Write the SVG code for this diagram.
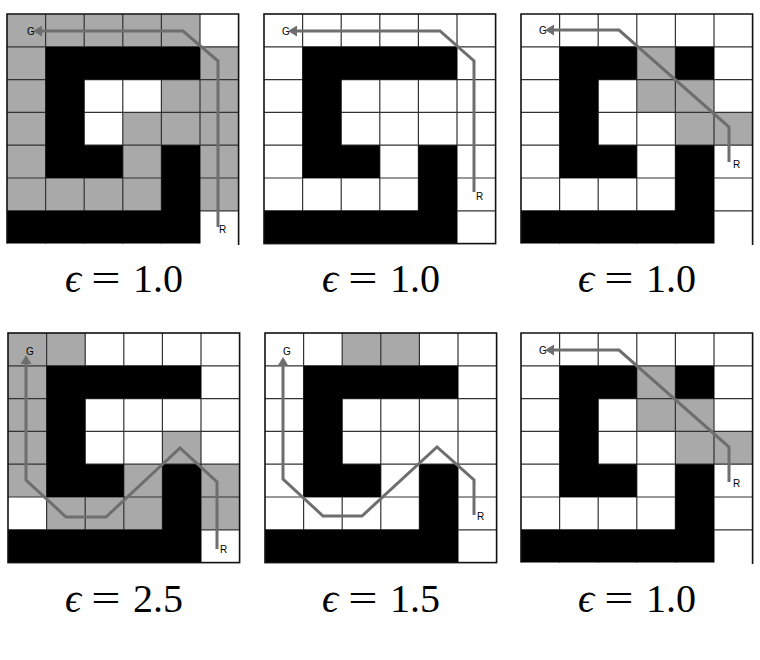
<svg xmlns="http://www.w3.org/2000/svg" xmlns:xlink="http://www.w3.org/1999/xlink" width="760" height="660" viewBox="0 0 760 660">
<style>
.g{fill:#a9a9a9}
.k{fill:#000}
.grid{fill:none;stroke:#333;stroke-width:1.2}
.border{fill:none;stroke:#111;stroke-width:1.6}
.path{fill:none;stroke:#6e6e6e;stroke-width:3;stroke-linejoin:miter;marker-end:url(#ah)}
.lbl{font-family:"Liberation Sans",Arial,sans-serif;font-size:10px;fill:#000}
.eq{font-family:"Liberation Serif","DejaVu Serif",serif;font-size:40px;fill:#000}
.eps{font-style:italic}
</style>
<defs>
<marker id="ah" markerUnits="userSpaceOnUse" markerWidth="9" markerHeight="11" viewBox="0 0 9 11" refX="0" refY="5.5" orient="auto">
<path d="M0 0L9 5.5L0 11z" fill="#6e6e6e"/>
</marker>
<path id="gridlines" class="grid" d="M38.6 0V229.6M77.2 0V229.6M115.8 0V229.6M154.4 0V229.6M193 0V229.6M0 32.8H231.6M0 65.6H231.6M0 98.4H231.6M0 131.2H231.6M0 164H231.6M0 196.8H231.6"/>
<g id="wallsA">
<path class="k" d="M38.6 32.8H193V65.6H77.2V131.2H115.8V164H38.6Z"/>
<path class="k" d="M154.4 131.2H193V229.6H0V196.8H154.4Z"/>
</g>
<g id="wallsB">
<path class="k" d="M38.6 32.8H115.8V65.6H77.2V131.2H115.8V164H38.6Z"/>
<path class="k" d="M154.4 32.8H193V65.6H154.4Z"/>
<path class="k" d="M154.4 131.2H193V229.6H0V196.8H154.4Z"/>
</g>
</defs>
<rect width="760" height="660" fill="#fff"/>

<g id="panel1" transform="translate(7 14)">
<rect x="0" y="0" width="231.6" height="229.6" fill="#fff"/>
<rect class="g" x="0" y="0" width="193" height="32.8"/>
<rect class="g" x="0" y="32.8" width="38.6" height="164"/>
<rect class="g" x="193" y="32.8" width="38.6" height="164"/>
<rect class="g" x="154.4" y="65.6" width="38.6" height="32.8"/>
<rect class="g" x="115.8" y="98.4" width="77.2" height="32.8"/>
<rect class="g" x="115.8" y="131.2" width="38.6" height="32.8"/>
<rect class="g" x="38.6" y="164" width="115.8" height="32.8"/>
<use xlink:href="#gridlines"/>
<use xlink:href="#wallsA"/>
<path class="border" d="M0 229.6V0H231.6V231"/>
<text class="lbl" x="20" y="21">G</text>
<text class="lbl" x="212" y="219">R</text>
</g>

<g id="panel2" transform="translate(264 14)">
<rect x="0" y="0" width="231.6" height="229.6" fill="#fff"/>
<use xlink:href="#gridlines"/>
<use xlink:href="#wallsA"/>
<rect class="border" x="0" y="0" width="231.6" height="229.6"/>
<text class="lbl" x="18" y="21">G</text>
<text class="lbl" x="212" y="186">R</text>
</g>

<g id="panel3" transform="translate(521 14)">
<rect x="0" y="0" width="231.6" height="229.6" fill="#fff"/>
<rect class="g" x="115.8" y="32.8" width="38.6" height="32.8"/>
<rect class="g" x="115.8" y="65.6" width="77.2" height="32.8"/>
<rect class="g" x="154.4" y="98.4" width="77.2" height="32.8"/>
<use xlink:href="#gridlines"/>
<use xlink:href="#wallsB"/>
<path class="border" d="M0 229.6V0H231.6V231"/>
<text class="lbl" x="18" y="20">G</text>
<text class="lbl" x="212" y="154">R</text>
</g>

<g id="panel4" transform="translate(8 333)">
<rect x="0" y="0" width="231.6" height="229.6" fill="#fff"/>
<rect class="g" x="0" y="0" width="77.2" height="32.8"/>
<rect class="g" x="0" y="32.8" width="38.6" height="131.2"/>
<rect class="g" x="154.4" y="98.4" width="38.6" height="32.8"/>
<rect class="g" x="115.8" y="131.2" width="38.6" height="32.8"/>
<rect class="g" x="193" y="131.2" width="38.6" height="65.6"/>
<rect class="g" x="38.6" y="164" width="115.8" height="32.8"/>
<use xlink:href="#gridlines"/>
<use xlink:href="#wallsA"/>
<rect class="border" x="0" y="0" width="231.6" height="229.6"/>
<text class="lbl" x="18" y="22">G</text>
<text class="lbl" x="212" y="220">R</text>
</g>

<g id="panel5" transform="translate(265 333)">
<rect x="0" y="0" width="231.6" height="229.6" fill="#fff"/>
<rect class="g" x="77.2" y="0" width="77.2" height="32.8"/>
<use xlink:href="#gridlines"/>
<use xlink:href="#wallsA"/>
<rect class="border" x="0" y="0" width="231.6" height="229.6"/>
<text class="lbl" x="18" y="22">G</text>
<text class="lbl" x="212" y="187">R</text>
</g>

<g id="panel6" transform="translate(521 333)">
<rect x="0" y="0" width="231.6" height="229.6" fill="#fff"/>
<rect class="g" x="115.8" y="32.8" width="38.6" height="32.8"/>
<rect class="g" x="115.8" y="65.6" width="77.2" height="32.8"/>
<rect class="g" x="154.4" y="98.4" width="77.2" height="32.8"/>
<use xlink:href="#gridlines"/>
<use xlink:href="#wallsB"/>
<path class="border" d="M0 229.6V0H231.6V231"/>
<text class="lbl" x="18" y="21">G</text>
<text class="lbl" x="212" y="154">R</text>
</g>

<g id="connectors">
<polyline class="path" transform="translate(7 14)" points="211,213 211,47 176,17 35,17"/>
<polyline class="path" transform="translate(264 14)" points="210,178 210,47 176,17 33,17"/>
<polyline class="path" transform="translate(521 14)" points="208,148 208,113 98,16 33,16"/>
<polyline class="path" transform="translate(8 333)" points="209,216 209,149 172,115 98,184 58,184 18,147 18,31"/>
<polyline class="path" transform="translate(265 333)" points="209,182 209,147 172,114 97,183 58,183 18,146 18,33"/>
<polyline class="path" transform="translate(521 333)" points="208,149 208,114 98,17 33,17"/>
</g>

<g id="labels">
<text class="eq eps" x="65" y="292">ϵ</text>
<text class="eq" text-anchor="middle" transform="translate(106 292) scale(1.3 1)">=</text>
<text class="eq" x="133" y="292">1.0</text>
<text class="eq eps" x="322" y="292">ϵ</text>
<text class="eq" text-anchor="middle" transform="translate(363 292) scale(1.3 1)">=</text>
<text class="eq" x="390" y="292">1.0</text>
<text class="eq eps" x="578" y="292">ϵ</text>
<text class="eq" text-anchor="middle" transform="translate(619 292) scale(1.3 1)">=</text>
<text class="eq" x="646" y="292">1.0</text>
<text class="eq eps" x="65" y="612">ϵ</text>
<text class="eq" text-anchor="middle" transform="translate(106 612) scale(1.3 1)">=</text>
<text class="eq" x="133" y="612">2.5</text>
<text class="eq eps" x="322" y="612">ϵ</text>
<text class="eq" text-anchor="middle" transform="translate(363 612) scale(1.3 1)">=</text>
<text class="eq" x="390" y="612">1.5</text>
<text class="eq eps" x="578" y="612">ϵ</text>
<text class="eq" text-anchor="middle" transform="translate(619 612) scale(1.3 1)">=</text>
<text class="eq" x="646" y="612">1.0</text>
</g>
</svg>
